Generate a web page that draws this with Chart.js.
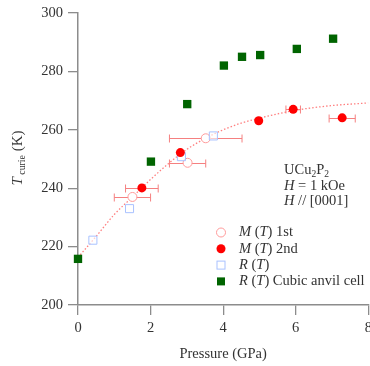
<!DOCTYPE html>
<html>
<head>
<meta charset="utf-8">
<script src="https://cdn.jsdelivr.net/npm/chart.js@4/dist/chart.umd.min.js"></script>
<style>
  html, body { margin: 0; padding: 0; background: #fff; }
  canvas { display: block; }
</style>
</head>
<body>
<canvas id="chart" width="370" height="366"></canvas>
<script>
// Curie temperature of UCu2P2 under pressure (H = 1 kOe, H // [0001])

// M(T) 1st run: pressure (GPa), T_curie (K), pressure uncertainty (GPa)
const mt1Pressure = [1.5, 3.02, 3.52];
const mt1Tc       = [237.0, 248.7, 257.1];
const mt1PErr     = [0.5, 0.5, 1.0];

// M(T) 2nd run
const mt2Pressure = [1.76, 2.82, 4.98, 5.93, 7.28];
const mt2Tc       = [240.1, 252.2, 263.1, 267.0, 264.1];
const mt2PErr     = [0.45, 0, 0, 0.2, 0.36];

// R(T) piston cell
const rtPressure = [0.41, 1.42, 2.85, 3.73];
const rtTc       = [222.2, 233.0, 250.8, 257.9];

// R(T) cubic anvil cell
const cubicPressure = [0, 2.01, 3.01, 4.02, 4.52, 5.02, 6.03, 7.03];
const cubicTc       = [215.8, 249.1, 268.8, 282.0, 285.0, 285.6, 287.7, 291.2];

// Guide-to-the-eye curve through the magnetization / resistivity points
const guidePressure = [0, 0.5, 1.0, 1.5, 2.0, 2.5, 3.0, 3.5, 4.0, 4.5, 5.0, 6.0, 7.0, 8.0];
const guideTc       = [216.3, 223.5, 231.0, 237.0, 243.0, 248.5, 253.3, 257.0, 260.0, 262.3, 264.0, 266.7, 268.3, 269.2];

// Axis ticks
const pressureTicks = [0, 2, 4, 6, 8];
const tcTicks = [200, 220, 240, 260, 280, 300];

const SERIF = '"Liberation Serif", "Times New Roman", serif';
const TEXT = '#333333';
const AXIS = '#8c8c8c';

const COL_MT1 = '#ff9a9a';
const COL_MT2 = '#ff0000';
const COL_RT = '#a9c2ff';
const COL_CUBIC = '#006400';
const COL_ERR = '#f58080';
const COL_GUIDE = '#ff8080';

const pts = (xs, ys) => xs.map((x, i) => ({ x: x, y: ys[i] }));

// Draw a sequence of text runs; run: {t, it (italic), sub (subscript)}
function drawRuns(ctx, runs, x, y, size) {
  let cx = x;
  for (const r of runs) {
    const s = r.sub ? size * 0.66 : size;
    ctx.font = (r.it ? 'italic ' : '') + s + 'px ' + SERIF;
    const dy = r.sub ? size * 0.28 : 0;
    ctx.fillText(r.t, cx, y + dy);
    cx += ctx.measureText(r.t).width;
  }
  return cx - x;
}
function runsWidth(ctx, runs, size) {
  let w = 0;
  for (const r of runs) {
    const s = r.sub ? size * 0.66 : size;
    ctx.font = (r.it ? 'italic ' : '') + s + 'px ' + SERIF;
    w += ctx.measureText(r.t).width;
  }
  return w;
}

function marker(ctx, kind, x, y) {
  ctx.save();
  ctx.lineWidth = 1;
  if (kind === 'mt1') {
    ctx.beginPath(); ctx.arc(x, y, 4.5, 0, Math.PI * 2);
    ctx.fillStyle = '#fff'; ctx.fill();
    ctx.strokeStyle = COL_MT1; ctx.stroke();
  } else if (kind === 'mt2') {
    ctx.beginPath(); ctx.arc(x, y, 4.5, 0, Math.PI * 2);
    ctx.fillStyle = COL_MT2; ctx.fill();
  } else if (kind === 'rt') {
    ctx.fillStyle = '#fff'; ctx.fillRect(x - 4, y - 4, 8, 8);
    ctx.strokeStyle = COL_RT; ctx.strokeRect(x - 4, y - 4, 8, 8);
  } else {
    ctx.fillStyle = COL_CUBIC; ctx.fillRect(x - 4, y - 4, 8, 8);
  }
  ctx.restore();
}

const overlay = {
  id: 'overlay',
  beforeDatasetsDraw(chart) {
    // horizontal pressure error bars
    const ctx = chart.ctx, xs = chart.scales.x, ys = chart.scales.y;
    ctx.save();
    ctx.strokeStyle = COL_ERR;
    ctx.lineWidth = 1;
    const bars = (P, T, E) => {
      P.forEach((p, i) => {
        if (!E[i]) return;
        const x0 = xs.getPixelForValue(p - E[i]);
        const x1 = xs.getPixelForValue(p + E[i]);
        const y = Math.round(ys.getPixelForValue(T[i])) + 0.5;
        ctx.beginPath();
        ctx.moveTo(x0, y); ctx.lineTo(x1, y);
        ctx.moveTo(x0, y - 4); ctx.lineTo(x0, y + 4);
        ctx.moveTo(x1, y - 4); ctx.lineTo(x1, y + 4);
        ctx.stroke();
      });
    };
    bars(mt1Pressure, mt1Tc, mt1PErr);
    bars(mt2Pressure, mt2Tc, mt2PErr);
    ctx.restore();
  },
  afterDraw(chart) {
    const ctx = chart.ctx, area = chart.chartArea;
    ctx.save();
    ctx.fillStyle = TEXT;
    ctx.textBaseline = 'middle';
    ctx.textAlign = 'left';

    // sample annotation
    const size = 14.5;
    drawRuns(ctx, [{ t: 'UCu' }, { t: '2', sub: true }, { t: 'P' }, { t: '2', sub: true }], 284, 170, size);
    drawRuns(ctx, [{ t: 'H', it: true }, { t: ' = 1 kOe' }], 284, 186, size);
    drawRuns(ctx, [{ t: 'H', it: true }, { t: ' // [0001]' }], 284, 201, size);

    // legend
    const legend = [
      ['mt1', [{ t: 'M', it: true }, { t: ' (' }, { t: 'T', it: true }, { t: ') 1st' }]],
      ['mt2', [{ t: 'M', it: true }, { t: ' (' }, { t: 'T', it: true }, { t: ') 2nd' }]],
      ['rt', [{ t: 'R', it: true }, { t: ' (' }, { t: 'T', it: true }, { t: ')' }]],
      ['cubic', [{ t: 'R', it: true }, { t: ' (' }, { t: 'T', it: true }, { t: ') Cubic anvil cell' }]]
    ];
    legend.forEach((row, i) => {
      const y = 232.5 + i * 16.3;
      marker(ctx, row[0], 221, y);
      ctx.fillStyle = TEXT;
      drawRuns(ctx, row[1], 239, y, size);
    });

    // x axis title
    ctx.font = '14.5px ' + SERIF;
    ctx.textAlign = 'center';
    ctx.fillText('Pressure (GPa)', (area.left + area.right) / 2, 354);

    // y axis title (rotated)
    const yRuns = [{ t: 'T', it: true }, { t: ' curie', sub: true }, { t: ' (K)' }];
    ctx.textAlign = 'left';
    ctx.translate(18, 158);
    ctx.rotate(-Math.PI / 2);
    const w = runsWidth(ctx, yRuns, 15);
    drawRuns(ctx, yRuns, -w / 2, 0, 15);
    ctx.restore();
  }
};

new Chart(document.getElementById('chart'), {
  type: 'scatter',
  data: {
    datasets: [
      {
        label: 'R (T) Cubic anvil cell',
        data: pts(cubicPressure, cubicTc),
        pointStyle: 'rect', pointRadius: 5.9, pointHoverRadius: 5.9,
        backgroundColor: COL_CUBIC, borderColor: COL_CUBIC, borderWidth: 0,
        clip: false,
        order: 1
      },
      {
        label: 'M (T) 2nd',
        data: pts(mt2Pressure, mt2Tc),
        pointStyle: 'circle', pointRadius: 4.5, pointHoverRadius: 4.5,
        backgroundColor: COL_MT2, borderColor: COL_MT2, borderWidth: 0,
        clip: false,
        order: 2
      },
      {
        label: 'R (T)',
        data: pts(rtPressure, rtTc),
        pointStyle: 'rect', pointRadius: 5.7, pointHoverRadius: 5.7,
        backgroundColor: 'rgba(255,255,255,0.6)', borderColor: COL_RT, borderWidth: 1,
        clip: false,
        order: 3
      },
      {
        label: 'M (T) 1st',
        data: pts(mt1Pressure, mt1Tc),
        pointStyle: 'circle', pointRadius: 4.5, pointHoverRadius: 4.5,
        backgroundColor: '#ffffff', borderColor: COL_MT1, borderWidth: 1,
        clip: false,
        order: 4
      },
      {
        label: 'guide',
        data: pts(guidePressure, guideTc),
        showLine: true, pointRadius: 0, pointHoverRadius: 0,
        borderColor: COL_GUIDE, borderWidth: 1.3, borderDash: [1.5, 2],
        cubicInterpolationMode: 'monotone',
        order: 10
      }
    ]
  },
  options: {
    responsive: false,
    animation: false,
    events: [],
    layout: { autoPadding: false, padding: { top: 13, right: 1.7, left: 0, bottom: 0 } },
    plugins: { legend: { display: false }, tooltip: { enabled: false } },
    scales: {
      x: {
        type: 'linear', min: 0, max: 8,
        afterBuildTicks: s => { s.ticks = pressureTicks.map(v => ({ value: v })); },
        afterFit: s => { s.height = 61; s.paddingLeft = 0; s.paddingRight = 0; },
        grid: { drawOnChartArea: false, drawTicks: true, tickLength: 10, color: AXIS, lineWidth: 1.3 },
        border: { display: true, color: AXIS, width: 1.5 },
        ticks: { color: TEXT, padding: 4, font: { family: SERIF, size: 14.5 }, maxRotation: 0 }
      },
      y: {
        type: 'linear', min: 200, max: 300,
        afterBuildTicks: s => { s.ticks = tcTicks.map(v => ({ value: v })); },
        afterFit: s => { s.width = 78; s.paddingTop = 0; s.paddingBottom = 0; },
        grid: { drawOnChartArea: false, drawTicks: true, tickLength: 10, color: AXIS, lineWidth: 1.3 },
        border: { display: true, color: AXIS, width: 1.5 },
        ticks: { color: TEXT, padding: 5, font: { family: SERIF, size: 14.5 } }
      }
    }
  },
  plugins: [overlay]
});
</script>
</body>
</html>
